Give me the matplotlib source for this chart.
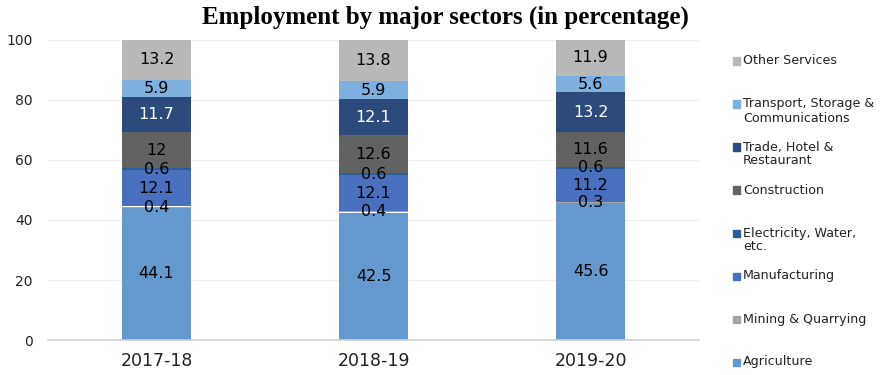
import matplotlib
matplotlib.use("Agg")
import matplotlib.pyplot as plt
from matplotlib.patches import Rectangle
import numpy as np

years = ["2017-18", "2018-19", "2019-20"]
sectors = ["Agriculture", "Mining & Quarrying", "Manufacturing", "Electricity, Water,\netc.",
           "Construction", "Trade, Hotel &\nRestaurant", "Transport, Storage &\nCommunications",
           "Other Services"]
agriculture = [44.1, 42.5, 45.6]
mining = [0.4, 0.4, 0.3]
manufacturing = [12.1, 12.1, 11.2]
electricity = [0.6, 0.6, 0.6]
construction = [12, 12.6, 11.6]
trade = [11.7, 12.1, 13.2]
transport = [5.9, 5.9, 5.6]
other = [13.2, 13.8, 11.9]
series = [agriculture, mining, manufacturing, electricity, construction, trade, transport, other]
colors = ["#6399CF", "#A5A5A5", "#4870BE", "#2A5F96", "#626262", "#2D4A7D", "#7DB0DE", "#B8B8B8"]
label_colors = ["black", "black", "black", "black", "black", "white", "black", "black"]

fig = plt.figure(figsize=(8.8, 3.75), dpi=100)
ax = fig.add_axes([48/880, 1 - 340/375, (699-48)/880, 300/375])

x = np.arange(len(years))
bottom = np.zeros(len(years))
width = 0.315
for vals, c, lc in zip(series, colors, label_colors):
    vals = np.array(vals, dtype=float)
    ax.bar(x, vals, width, bottom=bottom, color=c, edgecolor="none", zorder=2)
    for xi, b, v in zip(x, bottom, vals):
        ax.text(xi, b + v / 2, f"{v:g}", ha="center", va="center", fontsize=11.5,
                color=lc, zorder=3)
    bottom += vals

ax.set_xlim(-0.5, len(years) - 0.5)
ax.set_ylim(0, 100)
ax.set_yticks([0, 20, 40, 60, 80, 100])
ax.set_xticks(x)
ax.set_xticklabels(years, fontsize=12.5)
ax.tick_params(axis="y", length=0, labelsize=10, pad=11, colors="#222222")
ax.tick_params(axis="x", length=0, labelsize=12.5, pad=9, colors="#222222")
ax.yaxis.grid(True, color="#EFEFEF", linewidth=0.8, zorder=0)
ax.set_axisbelow(True)
for s in ["top", "right", "left"]:
    ax.spines[s].set_visible(False)
ax.spines["bottom"].set_color("#D0D0D0")
ax.spines["bottom"].set_linewidth(1.2)

fig.text(445/880, 1 - 17/375, "Employment by major sectors (in percentage)",
         ha="center", va="center", fontsize=18, fontweight="bold", family="Liberation Serif")

# legend (top to bottom: reversed order)
for k, (name, c) in enumerate(zip(sectors[::-1], colors[::-1])):
    y = 61 + 43 * k
    fig.patches.append(Rectangle((733/880, 1 - (y + 3.5)/375), 7/880, 7/375,
                                 transform=fig.transFigure, color=c, figure=fig))
    fig.text(743/880, 1 - (y - 6.5)/375, name, ha="left", va="top", fontsize=9.1,
             color="#222222", linespacing=1.1)

fig.savefig("out.png", dpi=100)
